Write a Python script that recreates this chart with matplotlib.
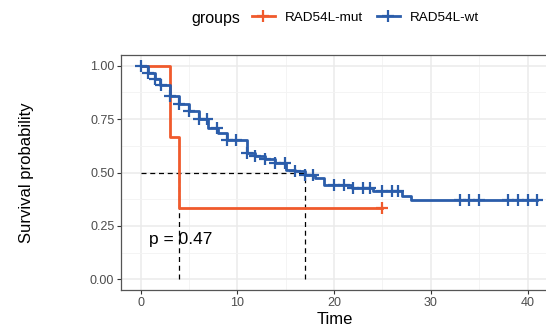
import matplotlib
matplotlib.use("Agg")
import matplotlib.pyplot as plt
import numpy as np
from matplotlib.lines import Line2D

plt.rcParams["font.family"] = ["Liberation Sans", "DejaVu Sans"]

# === data ===
MUT_TIME = [0, 3.0, 4.0, 25.0]
MUT_SURV = [1.0, 0.667, 0.333, 0.333]
MUT_CENSOR = [25.0]

WT_TIME = [0, 0.8, 1.5, 2.0, 3.0, 4.0, 5.0, 6.0, 7.0, 8.0, 8.9, 11.0, 11.8, 12.9,
           13.9, 15.0, 16.0, 17.0, 18.0, 19.0, 21.8, 24.0, 27.0, 28.0, 41.0]
WT_SURV = [1.0, 0.964, 0.94, 0.91, 0.858, 0.82, 0.79, 0.75, 0.71, 0.684, 0.653, 0.591,
           0.579, 0.563, 0.545, 0.513, 0.505, 0.49, 0.472, 0.443, 0.428, 0.412, 0.389,
           0.373, 0.373]
WT_CENSOR = [0, 0.8, 1.5, 2.1, 3.0, 4.0, 5.0, 6.0, 6.9, 7.9, 8.9, 9.9, 11.0, 11.8, 12.9,
             13.9, 14.9, 16.0, 17.0, 17.8, 20.0, 21.0, 22.0, 23.0, 23.7, 25.0, 26.0, 26.6,
             33.0, 34.0, 35.0, 38.0, 39.0, 40.0, 41.0]

MEDIANS = [4.0, 17.0]
PVAL_TEXT = "p = 0.47"
GROUPS = ["RAD54L-mut", "RAD54L-wt"]
COLORS = ["#F05A2C", "#2B5DAA"]

X_TICKS = [0, 10, 20, 30, 40]
Y_TICKS = [0.0, 0.25, 0.5, 0.75, 1.0]
Y_TICK_LABELS = ["0.00", "0.25", "0.50", "0.75", "1.00"]


def surv_at(times, surv, t):
    idx = np.searchsorted(times, t, side="right") - 1
    return np.asarray(surv)[idx]


W, H = 546, 332
fig = plt.figure(figsize=(W / 100, H / 100), dpi=100, facecolor="white")
ax = fig.add_axes([121.3 / W, (H - 290) / H, (548 - 121.3) / W, (290 - 55) / H])

x0, px_per = 140.7, 9.67
ax.set_xlim((121.3 - x0) / px_per, (548 - x0) / px_per)
ax.set_ylim(-0.05, 1.05)

# grid (theme_bw look)
ax.set_xticks(X_TICKS)
ax.set_xticks([5, 15, 25, 35], minor=True)
ax.set_yticks(Y_TICKS)
ax.set_yticks([0.125, 0.375, 0.625, 0.875], minor=True)
ax.set_yticklabels(Y_TICK_LABELS)
ax.grid(True, which="major", color="#EBEBEB", linewidth=1.1)
ax.grid(True, which="minor", color="#F3F3F3", linewidth=0.6)
ax.set_axisbelow(True)
ax.tick_params(which="minor", length=0)
ax.tick_params(which="major", length=3, width=0.8, color="#333333",
               labelcolor="#4D4D4D", labelsize=9, pad=2)
for s in ax.spines.values():
    s.set_color("#555555")
    s.set_linewidth(0.9)

# median lines
ax.plot([0, MEDIANS[1]], [0.5, 0.5], color="black", ls=(0, (4, 3)), lw=0.9)
for m in MEDIANS:
    ax.plot([m, m], [0, 0.5], color="black", ls=(0, (4, 3)), lw=0.9)

# survival curves
for times, surv, cens, col in [(MUT_TIME, MUT_SURV, MUT_CENSOR, COLORS[0]),
                                (WT_TIME, WT_SURV, WT_CENSOR, COLORS[1])]:
    ax.step(times, surv, where="post", color=col, lw=2.0)
    ax.plot(cens, surv_at(times, surv, cens), ls="none", marker="+",
            color=col, markersize=8, mew=1.6)

ax.text(0.85, 0.185, PVAL_TEXT, fontsize=12.5, va="center", ha="left")

ax.set_xlabel("Time", fontsize=12, labelpad=2)
ax.set_ylabel("Survival probability", fontsize=12, labelpad=40)

# legend on top
fig.text(191.7 / W, 1 - 18 / H, "groups", fontsize=11.5, va="center", ha="left")
handles = [Line2D([], [], color=c, lw=2.0, marker="+", markersize=8, mew=1.6)
           for c in COLORS]
fig.legend(handles, GROUPS, loc="center left", bbox_to_anchor=(252 / W, 1 - 18 / H),
           ncol=2, frameon=False, fontsize=9.7, handlelength=1.7, handletextpad=0.75,
           columnspacing=1.0, borderpad=0, borderaxespad=0)

fig.savefig("out.png", dpi=100)
